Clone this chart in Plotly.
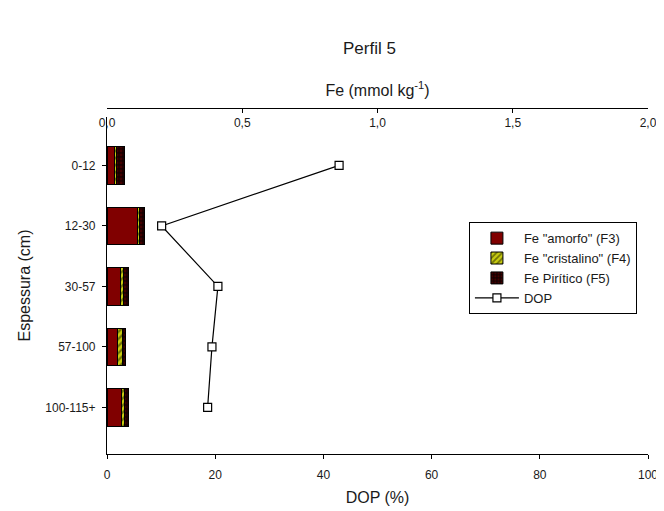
import plotly.graph_objects as go

# ---- data ----
depths = ["0-12", "12-30", "30-57", "57-100", "100-115+"]
fe_amorfo = [0.026, 0.111, 0.050, 0.037, 0.052]       # F3
fe_cristalino = [0.008, 0.0074, 0.012, 0.0185, 0.0126]  # F4
fe_piritico = [0.031, 0.0185, 0.0185, 0.0137, 0.016]    # F5
dop = [42.9, 10.1, 20.5, 19.4, 18.6]

fe_ticks = [0, 0.5, 1.0, 1.5, 2.0]
fe_ticktext = ["0,0", "0,5", "1,0", "1,5", "2,0"]
dop_ticks = [0, 20, 40, 60, 80, 100]

FONT = "Liberation Sans, Arial, sans-serif"
TXT = "#1a1a1a"

fig = go.Figure()

fig.add_trace(go.Bar(
    y=depths, x=fe_amorfo, orientation="h", xaxis="x2", yaxis="y",
    name='Fe "amorfo" (F3)',
    marker=dict(color="#800000", line=dict(color="black", width=1)),
))
fig.add_trace(go.Bar(
    y=depths, x=fe_cristalino, orientation="h", xaxis="x2", yaxis="y",
    name='Fe "cristalino" (F4)',
    marker=dict(color="#c8cc10", line=dict(color="black", width=1),
                pattern=dict(shape="/", fgcolor="#1a1a00", bgcolor="#c8cc10",
                             size=5, solidity=0.45)),
))
fig.add_trace(go.Bar(
    y=depths, x=fe_piritico, orientation="h", xaxis="x2", yaxis="y",
    name="Fe Pirítico (F5)",
    marker=dict(color="#1e0000", line=dict(color="black", width=1),
                pattern=dict(shape=".", fgcolor="#700000", bgcolor="#160000",
                             size=4, solidity=0.4)),
))
fig.add_trace(go.Scatter(
    y=depths, x=dop, xaxis="x", yaxis="y", mode="lines+markers",
    name="DOP",
    line=dict(color="black", width=1.2),
    marker=dict(symbol="square", size=8, color="white",
                line=dict(color="black", width=1.2)),
))

axis_common = dict(showgrid=False, zeroline=False, showline=True, automargin=False,
                   linecolor="black", linewidth=1.2, tickcolor="black",
                   tickfont=dict(family=FONT, size=12, color=TXT))

# The page body adds an 8px margin, so the figure is sized/offset to compensate.
fig.update_layout(
    width=656, height=503,
    margin=dict(l=99, r=16, t=100, b=57),
    paper_bgcolor="white", plot_bgcolor="white",
    barmode="stack", bargap=0.38,
    font=dict(family=FONT, size=12, color=TXT),
    showlegend=True,
    legend=dict(x=0.669, y=0.67, xanchor="left", yanchor="top",
                bordercolor="black", borderwidth=1, bgcolor="white",
                font=dict(family=FONT, size=13, color=TXT),
                traceorder="normal", tracegroupgap=0, itemwidth=44),
    xaxis=dict(domain=[0, 1], range=[0, 100], tickvals=dop_ticks,
               ticks="outside", ticklen=4, ticklabelstandoff=5,
               anchor="y", side="bottom",
               title=dict(text="DOP (%)", font=dict(family=FONT, size=16, color=TXT),
                          standoff=11),
               **axis_common),
    xaxis2=dict(range=[0, 2], tickvals=fe_ticks, ticktext=fe_ticktext,
                overlaying="x", side="top", anchor="free", position=1,
                ticks="inside", ticklen=4, ticklabelposition="inside",
                ticklabeloverflow="allow", ticklabelstandoff=5,
                title=dict(text="Fe (mmol kg<sup>-1</sup>)",
                           font=dict(family=FONT, size=16, color=TXT),
                           standoff=14),
                **axis_common),
    yaxis=dict(domain=[0, 0.974], range=[4.77, -0.80], type="category",
               ticks="outside", ticklen=4, ticklabelstandoff=4,
               title=dict(text="Espessura (cm)",
                          font=dict(family=FONT, size=16, color=TXT),
                          standoff=10),
               **axis_common),
    annotations=[dict(text="Perfil 5", xref="paper", yref="paper",
                      x=0.486, y=1, yshift=60, showarrow=False,
                      xanchor="center", yanchor="middle",
                      font=dict(family=FONT, size=17, color=TXT))],
)

fig.write_html("out.html")
